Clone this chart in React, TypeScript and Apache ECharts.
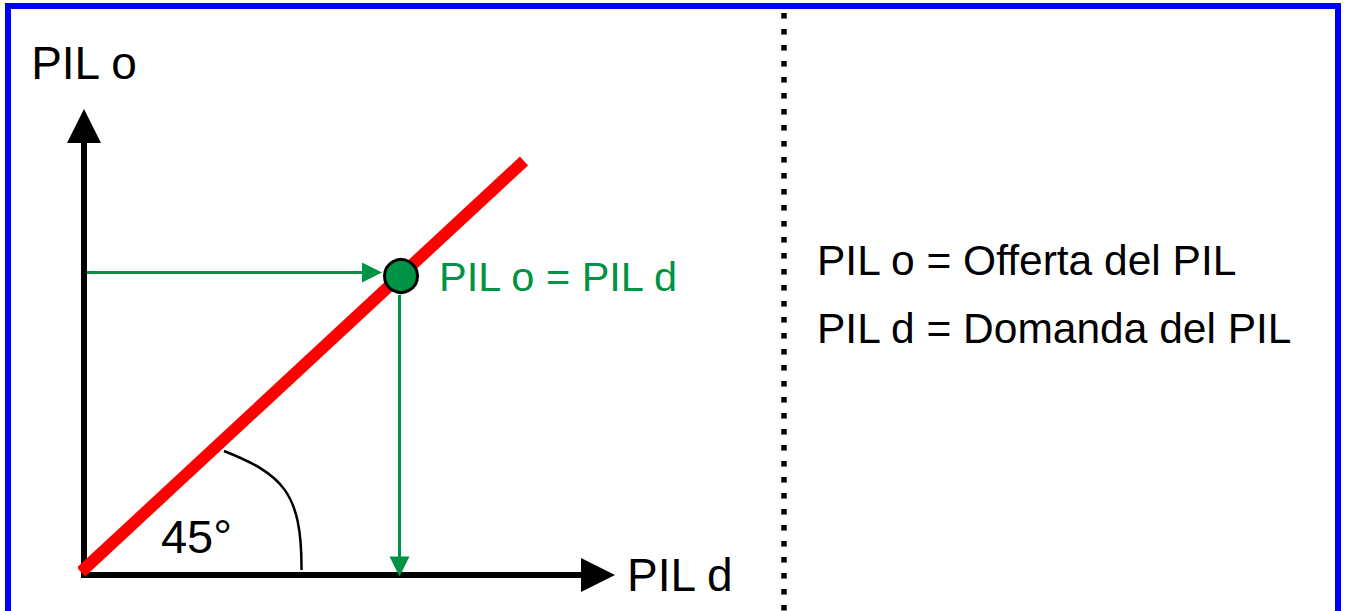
import React, { useEffect, useRef } from 'react';
import * as echarts from 'echarts';

const FONT = "'Liberation Sans', Arial, Helvetica, sans-serif";
const GREEN = '#009245';
const RED = '#FF0000';
const BLUE = '#0000FF';

// texts
const xAxisName = 'PIL d';
const yAxisName = 'PIL o';
const equilibriumLabel = 'PIL o = PIL d';
const angleLabel = '45°';
const legendLines = ['PIL o = Offerta del PIL', 'PIL d = Domanda del PIL'];

// data (diagram units)
const xRange = [0, 102.8];
const yRange = [0, 89.8];
const line45 = [[-0.6, 0.6], [88, 82.8]];
const equilibrium = [[63.4, 59.8]];
const arrowToLine = [[0.6, 60.5], [57.6, 60.5]];
const arrowToAxis = [[63.1, 56], [63.1, 1.7]];
// start(x,y), control1(x,y), control2(x,y), end(x,y)
const angleArc = [[28, 24.8, 39.6, 20.2, 43.6, 16.6, 43.5, 1.0]];
const anglePos = [[22.5, 7.66]];

export default function App() {
  const ref = useRef<HTMLDivElement>(null);
  useEffect(() => {
    if (!ref.current) return;
    const chart = echarts.init(ref.current, null, { renderer: 'svg' });
    chart.setOption({
      animation: false,
      backgroundColor: '#fff',
      title: {
        text: legendLines.join('\n'),
        left: 817,
        top: 226,
        padding: 0,
        textStyle: {
          fontSize: 42.5,
          fontWeight: 'normal',
          color: '#000',
          fontFamily: FONT,
          lineHeight: 68,
        },
      },
      grid: { left: 84, top: 126, width: 514, height: 449 },
      xAxis: {
        type: 'value',
        min: xRange[0],
        max: xRange[1],
        name: xAxisName,
        nameLocation: 'end',
        nameGap: 29,
        nameTextStyle: { fontSize: 46, color: '#000', fontFamily: FONT, lineHeight: 46 },
        axisLine: {
          show: true,
          symbol: ['none', 'triangle'],
          symbolSize: [34, 34],
          lineStyle: { color: '#000', width: 6, cap: 'square' },
        },
        axisTick: { show: false },
        axisLabel: { show: false },
        splitLine: { show: false },
      },
      yAxis: {
        type: 'value',
        min: yRange[0],
        max: yRange[1],
        name: yAxisName,
        nameLocation: 'end',
        nameGap: 40,
        nameTextStyle: { fontSize: 46, color: '#000', fontFamily: FONT, lineHeight: 46 },
        axisLine: {
          show: true,
          symbol: ['none', 'triangle'],
          symbolSize: [34, 34],
          lineStyle: { color: '#000', width: 6, cap: 'square' },
        },
        axisTick: { show: false },
        axisLabel: { show: false },
        splitLine: { show: false },
      },
      graphic: [
        {
          type: 'line',
          shape: { x1: 784, y1: 13, x2: 784, y2: 640 },
          style: { stroke: '#000', lineWidth: 5.5, lineDash: [5.5, 10.5] },
          silent: true,
        },
        {
          type: 'rect',
          shape: { x: 8, y: 6, width: 1330, height: 700 },
          style: { fill: 'none', stroke: BLUE, lineWidth: 6 },
          silent: true,
          z: 100,
        },
      ],
      series: [
        {
          type: 'custom',
          coordinateSystem: 'cartesian2d',
          data: angleArc,
          encode: { x: [0, 2, 4, 6], y: [1, 3, 5, 7] },
          clip: false,
          silent: true,
          renderItem: (_params: any, api: any) => {
            const p0 = api.coord([api.value(0), api.value(1)]);
            const c1 = api.coord([api.value(2), api.value(3)]);
            const c2 = api.coord([api.value(4), api.value(5)]);
            const p1 = api.coord([api.value(6), api.value(7)]);
            return {
              type: 'bezierCurve',
              shape: {
                x1: p0[0], y1: p0[1],
                cpx1: c1[0], cpy1: c1[1],
                cpx2: c2[0], cpy2: c2[1],
                x2: p1[0], y2: p1[1],
              },
              style: { stroke: '#000', lineWidth: 2.5, fill: null },
            };
          },
        },
        {
          type: 'line',
          data: line45,
          symbol: 'none',
          clip: false,
          silent: true,
          lineStyle: { color: RED, width: 12 },
          z: 3,
        },
        {
          type: 'lines',
          coordinateSystem: 'cartesian2d',
          data: [{ coords: arrowToLine }, { coords: arrowToAxis }],
          symbol: ['none', 'triangle'],
          symbolSize: 20,
          silent: true,
          lineStyle: { color: GREEN, width: 3, opacity: 1, curveness: 0 },
          z: 4,
        },
        {
          type: 'scatter',
          data: equilibrium,
          symbol: 'circle',
          symbolSize: 33,
          silent: true,
          itemStyle: { color: GREEN, borderColor: '#000', borderWidth: 3, opacity: 1 },
          label: {
            show: true,
            position: 'right',
            distance: 20,
            formatter: equilibriumLabel,
            color: GREEN,
            fontSize: 41.5,
            fontFamily: FONT,
          },
          z: 5,
        },
        {
          type: 'scatter',
          data: anglePos,
          symbolSize: 0,
          silent: true,
          itemStyle: { color: '#000', opacity: 1 },
          label: {
            show: true,
            position: 'inside',
            formatter: angleLabel,
            color: '#000',
            textBorderWidth: 0,
            opacity: 1,
            fontSize: 47,
            fontFamily: FONT,
          },
          z: 5,
        },
      ],
    });
    return () => chart.dispose();
  }, []);
  return (
    <div
      ref={ref}
      style={{ position: 'absolute', left: 0, top: 0, width: 1346, height: 611, background: '#fff' }}
    />
  );
}
